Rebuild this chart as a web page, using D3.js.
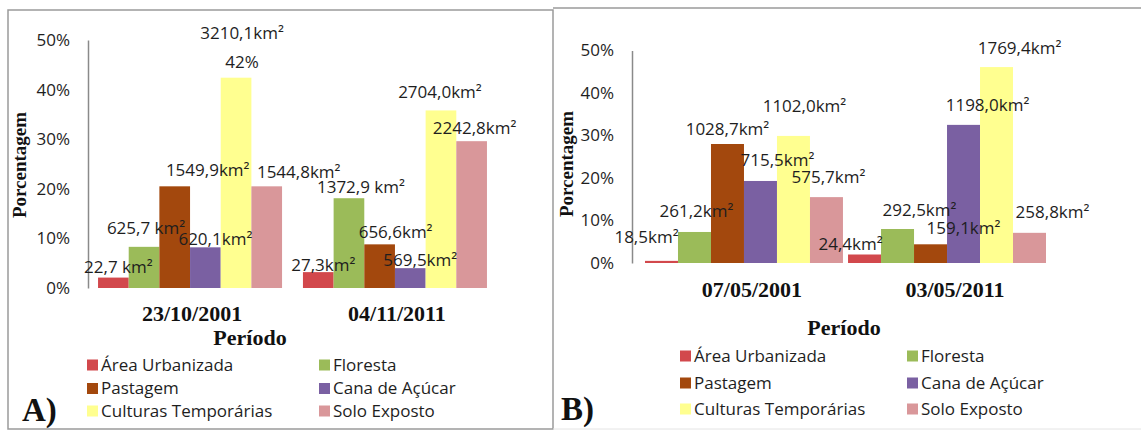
<!DOCTYPE html>
<html>
<head>
<meta charset="utf-8">
<script src="https://cdn.jsdelivr.net/npm/d3@7"></script>
<style>
  html, body { margin: 0; padding: 0; background: #fff; }
  svg { display: block; }
  .lbl, .tick text, .legend text { font-family: "Open Sans", sans-serif; font-size: 17px; fill: #1e1e1e; }
  .serif { font-family: "Liberation Serif", "Times New Roman", serif; font-weight: bold; fill: #111; }
</style>
</head>
<body>
<svg id="chart" width="1141" height="431"></svg>
<script>
// land use classes (legend order = bar order)
const series = ["Área Urbanizada", "Floresta", "Pastagem", "Cana de Açúcar", "Culturas Temporárias", "Solo Exposto"];
const seriesColors = ["#d2484c", "#9bbb59", "#a3480d", "#7a60a2", "#ffff90", "#d9979a"];
const yTicks = [0, 10, 20, 30, 40, 50];

// panel A
const periodsA = ["23/10/2001", "04/11/2011"];
const pctA2001 = [2.1, 8.3, 20.5, 8.2, 42.4, 20.5];
const pctA2011 = [3.2, 18.1, 8.8, 4.0, 35.8, 29.6];
const kmA2001 = ["22,7 km²", "625,7 km²", "1549,9km²", "620,1km²", "3210,1km²\n42%", "1544,8km²"];
const kmA2011 = ["27,3km²", "1372,9 km²", "656,6km²", "569,5km²", "2704,0km²", "2242,8km²"];

// panel B
const periodsB = ["07/05/2001", "03/05/2011"];
const pctB2001 = [0.5, 7.3, 28.0, 19.3, 29.9, 15.5];
const pctB2011 = [2.0, 8.0, 4.4, 32.5, 46.1, 7.1];
const kmB2001 = ["18,5km²", "261,2km²", "1028,7km²", "715,5km²", "1102,0km²", "575,7km²"];
const kmB2011 = ["24,4km²", "292,5km²", "159,1km²", "1198,0km²", "1769,4km²", "258,8km²"];

const svg = d3.select("#chart");

// frames
svg.append("rect").attr("x", 8).attr("y", 10).attr("width", 545).attr("height", 419)
  .attr("fill", "none").attr("stroke", "#9a9a9a").attr("stroke-width", 1.5);
svg.append("line").attr("x1", 553).attr("x2", 1141).attr("y1", 8).attr("y2", 8)
  .attr("stroke", "#9a9a9a").attr("stroke-width", 1.5);
svg.append("line").attr("x1", 553).attr("x2", 1141).attr("y1", 429).attr("y2", 429)
  .attr("stroke", "#e4e4e4").attr("stroke-width", 1);

function drawPanel(p) {
  const g = svg.append("g");

  const x0 = d3.scaleBand().domain(p.periods).range(p.xRange)
    .paddingInner(p.padIn).paddingOuter(p.padOut);
  const x1 = d3.scaleBand().domain(series).range([0, x0.bandwidth()]);
  const y = d3.scaleLinear().domain([0, 50]).range(p.yRange);

  // y axis
  const ax = g.append("g")
    .attr("transform", `translate(${p.xRange[0]},0)`)
    .call(d3.axisLeft(y).tickValues(yTicks).tickFormat((d) => d + "%").tickSize(0).tickPadding(18));
  ax.select(".domain").attr("stroke", "#8a8a8a").attr("stroke-width", 1.5);
  ax.attr("font-family", null).attr("font-size", null);

  const rows = p.periods.map((per, i) => ({ per, vals: p.values[i], labels: p.labels[i], offs: p.offsets[i] }));

  const grp = g.selectAll(".grp").data(rows).enter().append("g")
    .attr("transform", (d) => `translate(${x0(d.per)},0)`);

  grp.selectAll("rect").data((d) => d.vals.map((v, k) => ({ k, v })))
    .enter().append("rect")
    .attr("x", (d) => x1(series[d.k]))
    .attr("width", x1.bandwidth())
    .attr("y", (d) => y(d.v))
    .attr("height", (d) => y(0) - y(d.v))
    .attr("fill", (d) => seriesColors[d.k]);

  // data labels
  const lab = grp.selectAll("text.lbl").data((d) => d.labels.map((t, k) => ({ t, k, v: d.vals[k], o: d.offs[k] })))
    .enter().append("text")
    .attr("class", "lbl")
    .attr("text-anchor", "middle")
    .attr("x", (d) => x1(series[d.k]) + x1.bandwidth() / 2 + d.o[0])
    .attr("y", (d) => y(d.v) + d.o[1]);
  lab.each(function (d) {
    const t = d3.select(this);
    const cx = t.attr("x");
    d.t.split("\n").forEach((s, i) => {
      t.append("tspan").attr("x", cx).attr("dy", i === 0 ? "0.35em" : "1.75em").text(s);
    });
  });

  // category labels
  g.selectAll(".cat").data(p.periods).enter().append("text")
    .attr("class", "serif")
    .attr("font-size", 22)
    .attr("text-anchor", "middle")
    .attr("x", (d) => x0(d) + x0.bandwidth() / 2 + p.catDx)
    .attr("y", p.catY)
    .attr("dy", "0.35em")
    .text((d) => d);

  // axis titles
  g.append("text").attr("class", "serif").attr("font-size", 19)
    .attr("text-anchor", "middle")
    .attr("transform", `translate(${p.yTitle[0]},${p.yTitle[1]}) rotate(-90)`)
    .attr("dy", "0.35em")
    .text("Porcentagem");
  g.append("text").attr("class", "serif").attr("font-size", 22)
    .attr("text-anchor", "middle")
    .attr("x", p.xTitle[0]).attr("y", p.xTitle[1]).attr("dy", "0.35em")
    .text("Período");

  // legend, 2 columns x 3 rows
  const leg = g.append("g").attr("class", "legend");
  const li = leg.selectAll("g").data(series).enter().append("g")
    .attr("transform", (d, i) => `translate(${p.legX[i % 2]},${p.legY[Math.floor(i / 2)]})`);
  li.append("rect").attr("x", -14).attr("y", -5.5).attr("width", 11).attr("height", 11)
    .attr("fill", (d, i) => seriesColors[i]);
  li.append("text").attr("x", 0).attr("dy", "0.35em").text((d) => d);

  // panel tag
  g.append("text").attr("class", "serif").attr("font-size", 33)
    .attr("x", p.tag[0]).attr("y", p.tag[1]).attr("dy", "0.35em")
    .text(p.tagText);
}

drawPanel({
  periods: periodsA,
  values: [pctA2001, pctA2011],
  labels: [kmA2001, kmA2011],
  offsets: [
    [[5, -11], [2, -19], [33, -16], [10, -8], [6, -45], [32, -14]],
    [[5, -7], [12, -11], [16, -12], [10, -8], [-1, -18], [3, -13]]
  ],
  xRange: [88, 497], padIn: 0.102, padOut: 0.049,
  yRange: [288, 40],
  catY: 313, catDx: 2,
  yTitle: [19, 165], xTitle: [250, 337],
  legX: [101, 333], legY: [365, 388.5, 411],
  tag: [22, 409], tagText: "A)"
});

drawPanel({
  periods: periodsB,
  values: [pctB2001, pctB2011],
  labels: [kmB2001, kmB2011],
  offsets: [
    [[-15, -24], [2, -21], [0, -15], [17, -21], [11, -30], [2, -20]],
    [[-14, -10], [22, -19], [33, -16], [24, -20], [23, -19], [23, -21]]
  ],
  xRange: [632, 1059], padIn: 0.025, padOut: 0.064,
  yRange: [263, 50.5],
  catY: 289, catDx: 8,
  yTitle: [566, 164], xTitle: [844, 327],
  legX: [694, 921], legY: [356, 383, 409],
  tag: [561, 408], tagText: "B)"
});
</script>
</body>
</html>
